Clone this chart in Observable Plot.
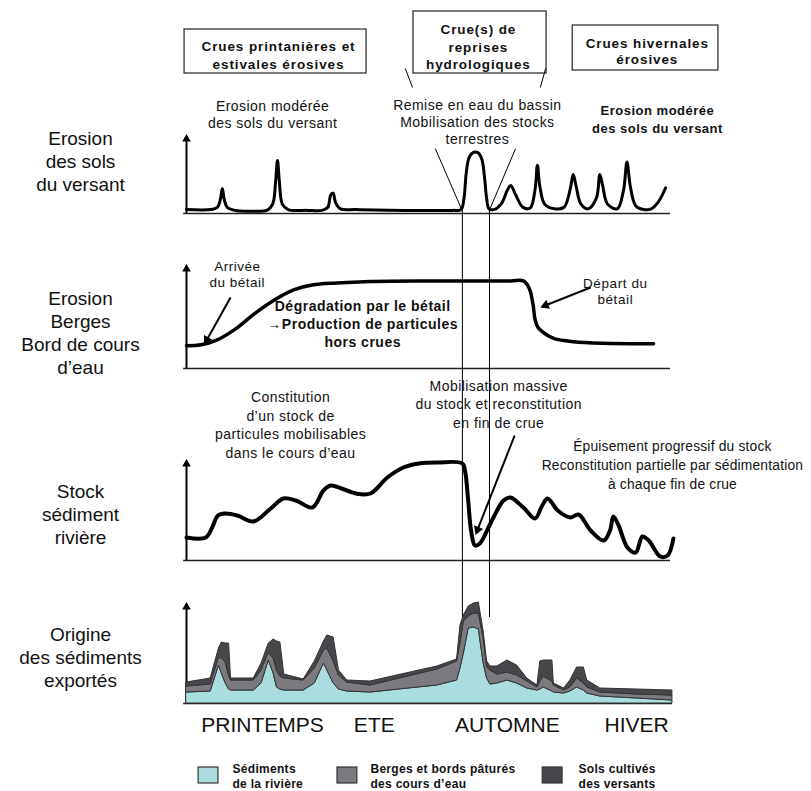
<!DOCTYPE html>
<html><head><meta charset="utf-8">
<script src="https://cdn.jsdelivr.net/npm/d3@7"></script>
<script src="https://cdn.jsdelivr.net/npm/@observablehq/plot@0.6"></script>
<style>body{margin:0;background:#fff} #chart svg{display:block}</style>
</head><body><div id="chart"></div>
<script>
// ---------- DATA (time t: 0 = start of spring, 100 = end of winter; values 0..1 relative intensity) ----------
const seasons = ["PRINTEMPS", "ETE", "AUTOMNE", "HIVER"];
const seasonT = [15.7, 38.8, 66.3, 93.0];

const panelLabels = [
  "Erosion\ndes sols\ndu versant",
  "Erosion\nBerges\nBord de cours\nd’eau",
  "Stock\nsédiment\nrivière",
  "Origine\ndes sédiments\nexportés"
];

// Panel 1 : érosion des sols du versant
const erosionSols = [[0,0.05],[5,0.05],[6.4,0.08],[7.0,0.18],[7.4,0.32],[7.8,0.18],[8.4,0.08],[10,0.04],[14,0.03],[16.6,0.04],[17.8,0.12],[18.4,0.4],[18.8,0.68],[19.2,0.4],[19.8,0.12],[21,0.05],[25,0.04],[28,0.04],[29.2,0.08],[29.8,0.24],[30.3,0.26],[30.8,0.14],[31.8,0.06],[35,0.05],[45,0.04],[55,0.04],[56.7,0.05],[57.3,0.18],[57.8,0.52],[58.4,0.72],[59.2,0.78],[60.2,0.78],[61.0,0.7],[61.6,0.45],[62.0,0.2],[62.5,0.06],[63.5,0.05],[65,0.12],[66.3,0.3],[67,0.36],[68,0.24],[69.5,0.08],[71,0.07],[72,0.3],[72.5,0.62],[73,0.35],[74,0.12],[76,0.06],[78,0.08],[79.3,0.32],[79.9,0.5],[80.5,0.35],[81.5,0.12],[83,0.06],[84.7,0.2],[85.4,0.5],[86,0.35],[87,0.12],[89,0.06],[90.3,0.3],[91,0.66],[91.7,0.35],[92.8,0.1],[94.5,0.05],[96,0.06],[97.5,0.15],[99,0.33]];

// Panel 2 : érosion des berges
const erosionBerges = [[0,0.22],[3,0.23],[6,0.27],[10,0.38],[14,0.53],[18,0.66],[22,0.76],[26,0.81],[31,0.83],[38,0.845],[50,0.85],[60,0.85],[67,0.85],[69.6,0.85],[70.8,0.78],[71.6,0.62],[72,0.48],[72.6,0.4],[74,0.34],[76,0.29],[80,0.26],[86,0.245],[96.5,0.24]];

// Panel 3 : stock sédiment rivière
const stockRiviere = [[0,0.23],[4.0,0.23],[5.3,0.33],[6.5,0.45],[8,0.47],[10.5,0.45],[13.8,0.39],[17.4,0.52],[20.0,0.62],[22.6,0.6],[26.0,0.53],[28.3,0.7],[29.8,0.75],[32,0.72],[35,0.67],[38,0.67],[41.5,0.83],[44.8,0.93],[48,0.97],[51.9,0.98],[57.0,0.97],[57.6,0.88],[58.2,0.6],[58.8,0.3],[59.6,0.15],[60.6,0.17],[62.8,0.37],[65.5,0.6],[66.9,0.63],[69.6,0.53],[72.0,0.42],[73.5,0.55],[74.6,0.62],[76.7,0.5],[79.3,0.43],[81.0,0.46],[83.5,0.3],[86.2,0.2],[87.5,0.3],[88.2,0.44],[89.2,0.36],[91.1,0.13],[92.8,0.08],[94.2,0.24],[95.5,0.2],[97.9,0.04],[99.4,0.05],[100.6,0.22]];

// Panel 4 : origine des sédiments exportés (stacked contributions)
const exportT        = [0,5.0,6.7,7.3,8.1,8.8,9.2,13.9,15.5,17.0,18.0,18.7,19.4,20.2,24.2,26.5,28.4,29.1,30.4,31.5,33.2,38.0,51.8,55.9,56.6,57.3,58.3,59.4,60.4,61.4,62.1,62.8,64.2,66.3,68.3,70.4,72.5,73.1,73.8,75.6,75.9,78.0,79.3,80.7,82.1,82.8,85.5,93.1,100.4];
const sedRiviere     = [.11,.12,.38,.30,.20,.14,.13,.13,.20,.43,.30,.16,.14,.13,.13,.20,.40,.33,.20,.14,.12,.11,.18,.23,.35,.50,.75,.76,.74,.40,.25,.19,.20,.23,.20,.15,.13,.14,.16,.12,.11,.10,.12,.16,.13,.10,.07,.05,.03];
const bergesPatures  = [.06,.07,.08,.15,.21,.14,.10,.10,.13,.08,.15,.17,.13,.12,.10,.15,.13,.22,.22,.14,.09,.07,.16,.19,.25,.32,.12,.14,.16,.25,.11,.14,.09,.08,.08,.07,.03,.08,.11,.10,.07,.03,.04,.09,.07,.06,.04,.04,.05];
const solsCultives   = [.04,.06,.09,.16,.19,.32,.02,.02,.07,.09,.19,.29,.34,.04,.01,.07,.09,.13,.24,.05,.02,.04,.03,.02,.18,.06,.10,.10,.11,.07,.06,.04,.08,.12,.10,.03,.02,.20,.16,.21,.02,.02,.07,.11,.16,.07,.04,.05,.05];

const legendLabels = ["Sédiments\nde la rivière", "Berges et bords pâturés\ndes cours d’eau", "Sols cultivés\ndes versants"];
const legendColors = ["#a9dde0", "#7a7a7f", "#47474b"];

// flood of hydrological recovery (start / end)
const crueReprise = [57.0, 62.6];

// ---------- LAYOUT ----------
const FONT = "Liberation Sans, Arial, Helvetica, sans-serif";
const panels = [
  {key: "sols",    base: 213, unit: 78},
  {key: "berges",  base: 368, unit: 103},
  {key: "stock",   base: 560, unit: 100},
  {key: "origine", base: 703, unit: 100}
];
const P = Object.fromEntries(panels.map(p => [p.key, p]));
const row = (k, v) => P[k].base - v * P[k].unit;
const PXT = 4.84; // pixels per time unit (for arrow head angles)

const pts = (k, arr) => arr.map(([t, v]) => ({t, r: row(k, v)}));

// stacked areas
const stack = exportT.map((t, i) => {
  const c = sedRiviere[i], g = c + bergesPatures[i], d = g + solsCultives[i];
  return {t, r0: row("origine", 0), rc: row("origine", c), rg: row("origine", g), rd: row("origine", d)};
});

// arrows
function arrowData(t1, r1, t2, r2) {
  const dx = (t2 - t1) * PXT, dy = r2 - r1;
  const len = Math.hypot(dx, dy);
  const back = 4 / len;
  return {t1, r1, t2: t2 - (t2 - t1) * back, r2: r2 - dy * back, th: t2 - (t2 - t1) * (3 / len), rh: r2 - dy * (3 / len),
          rot: Math.atan2(dx, -dy) * 180 / Math.PI};
}
const annArrows = [
  arrowData(9.1, 297, 3.9, 342),
  arrowData(83.5, 287, 73.6, 306),
  arrowData(67.8, 435, 59.9, 532)
];

const texts = [
  // left labels
  ...panelLabels.map((s, i) => ({s, t: -21.9, r: [160, 331.5, 513, 656][i], size: 19, w: "normal", lh: 1.21, ls: 0})),
  // header boxes
  {s: "Crues printanières et\nestivales érosives", t: 19.0, r: 54, size: 13.5, w: "bold", lh: 1.3, ls: 0.9},
  {s: "Crue(s) de\nreprises\nhydrologiques", t: 60.3, r: 45.5, size: 13.5, w: "bold", lh: 1.27, ls: 0.9},
  {s: "Crues hivernales\nérosives", t: 95.2, r: 50, size: 13.5, w: "bold", lh: 1.2, ls: 0.9},
  // panel 1
  {s: "Erosion modérée\ndes sols du versant", t: 17.8, r: 113.5, size: 14, w: "normal", lh: 1.2, ls: 0.45},
  {s: "Remise en eau du bassin\nMobilisation des stocks\nterrestres", t: 60.1, r: 121, size: 14, w: "normal", lh: 1.2, ls: 0.45},
  {s: "Erosion modérée\ndes sols du versant", t: 97.3, r: 117.5, size: 13, w: "bold", lh: 1.4, ls: 0.5},
  // panel 2
  {s: "Arrivée\ndu bétail", t: 10.5, r: 273.5, size: 13.5, w: "normal", lh: 1.2, ls: 0.5},
  {s: "Dégradation par le bétail\n→Production de particules\nhors crues", t: 36.4, r: 323, size: 14, w: "bold", lh: 1.28, ls: 0.5},
  {s: "Départ du\nbétail", t: 88.6, r: 290.5, size: 13.5, w: "normal", lh: 1.15, ls: 0.6},
  // panel 3
  {s: "Constitution\nd’un stock de\nparticules mobilisables\ndans le cours d’eau", t: 21.5, r: 423.5, size: 14, w: "normal", lh: 1.35, ls: 0.45},
  {s: "Mobilisation massive\ndu stock et reconstitution\nen fin de crue", t: 64.5, r: 403, size: 14, w: "normal", lh: 1.32, ls: 0.45},
  {s: "Épuisement progressif du stock\nReconstitution partielle par sédimentation\nà chaque fin de crue", t: 100.4, r: 463, size: 13.8, w: "normal", lh: 1.38, ls: 0.2},
  // seasons
  ...seasons.map((s, i) => ({s, t: seasonT[i], r: 725, size: 21, w: "normal", lh: 1, ls: 0}))
];

const boxes = [
  {t1: -0.4, t2: 37.2, r1: 29, r2: 73},
  {t1: 46.9, t2: 74.4, r1: 11, r2: 73},
  {t1: 79.8, t2: 109.9, r1: 25, r2: 70}
];

const legend = legendLabels.map((s, i) => ({s, fill: legendColors[i], t1: [2.5, 31.2, 73.6][i], t2: [6.6, 35.3, 77.7][i], tt: [9.5, 38.0, 81.0][i]}));

const thinLinks = [
  {t1: 51.4, r1: 148, t2: crueReprise[0], r2: row("sols", 0.03)},
  {t1: 68.0, r1: 148, t2: crueReprise[1] - 0.1, r2: row("sols", 0.03)},
  {t1: 45.2, r1: 68, t2: 46.7, r2: 87},
  {t1: 74.2, r1: 68, t2: 73.1, r2: 87}
];

// letter-spacing helper (render hook)
const spacing = ls => ls ? {render(index, scales, values, dims, ctx, next) {
  const g = next(index, scales, values, dims, ctx);
  if (g) g.setAttribute("letter-spacing", ls + "px");
  return g;
}} : {};

const marks = [
  // header boxes
  Plot.rect(boxes, {x1: "t1", x2: "t2", y1: "r1", y2: "r2", fill: "none", stroke: "#333", strokeWidth: 1.3}),
  // panel axes
  Plot.ruleY(panels, {y: "base", x1: -0.6, x2: d => d.key === "origine" ? 100.4 : 100, stroke: "#222", strokeWidth: 1.3}),
  Plot.ruleX(panels, {x: 0, y1: "base", y2: d => d.base - d.unit + 5, stroke: "#000", strokeWidth: 2}),
  Plot.dot(panels, {x: 0, y: d => d.base - d.unit + 3.5, symbol: "triangle", r: 3.2, fill: "#000", stroke: "none"}),
  // flood markers
  Plot.ruleX(crueReprise, {x: d => d, y1: row("sols", 0.03), y2: row("origine", 0.86), stroke: "#000", strokeWidth: 1}),
  Plot.link(thinLinks, {x1: "t1", y1: "r1", x2: "t2", y2: "r2", stroke: "#000", strokeWidth: 1}),
  // panel 4 stacked areas
  Plot.areaY(stack, {x: "t", y1: "r0", y2: "rc", fill: legendColors[0], stroke: "#333", strokeWidth: 1}),
  Plot.areaY(stack, {x: "t", y1: "rc", y2: "rg", fill: legendColors[1], stroke: "#333", strokeWidth: 1}),
  Plot.areaY(stack, {x: "t", y1: "rg", y2: "rd", fill: legendColors[2], stroke: "#333", strokeWidth: 1}),
  // curves
  Plot.line(pts("sols", erosionSols), {x: "t", y: "r", curve: "catmull-rom", stroke: "#000", strokeWidth: 3}),
  Plot.line(pts("berges", erosionBerges), {x: "t", y: "r", curve: "catmull-rom", stroke: "#000", strokeWidth: 3.5}),
  Plot.line(pts("stock", stockRiviere), {x: "t", y: "r", curve: "catmull-rom", stroke: "#000", strokeWidth: 4}),
  // annotation arrows
  Plot.link(annArrows, {x1: "t1", y1: "r1", x2: "t2", y2: "r2", stroke: "#000", strokeWidth: 2}),
  Plot.dot(annArrows, {x: "th", y: "rh", rotate: "rot", symbol: "triangle", r: 3.6, fill: "#000", stroke: "none"}),
  // texts
  ...texts.map(d => Plot.text([d], {x: "t", y: "r", text: "s", fontSize: d.size, fontWeight: d.w, lineHeight: d.lh, fontFamily: FONT, fill: "#111", lineAnchor: "middle", textAnchor: "middle", ...spacing(d.ls)})),
  // legend
  Plot.rect(legend, {x1: "t1", x2: "t2", y1: 767, y2: 783, fill: "fill", stroke: "#333", strokeWidth: 1.2}),
  Plot.text(legend, {x: "tt", y: 775, text: "s", fontSize: 12, fontWeight: "bold", lineHeight: 1.3, fontFamily: FONT, fill: "#111", textAnchor: "start", lineAnchor: "middle", ...spacing(0.3)})
];

const chart = Plot.plot({
  width: 811, height: 791, margin: 0,
  x: {type: "linear", domain: [0, 100], range: [186, 670], axis: null},
  y: {type: "linear", domain: [0, 791], range: [0, 791], axis: null},
  fill: {type: "identity"},
  style: {background: "#fff", overflow: "visible"},
  marks
});
document.getElementById("chart").append(chart);
</script>
</body></html>
